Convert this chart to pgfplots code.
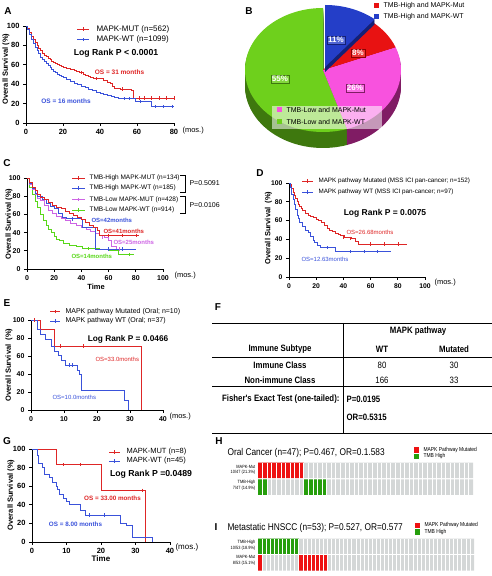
\documentclass[border=0pt]{standalone}
\usepackage{fontspec}
\setmainfont{Liberation Sans}
\newfontfamily\narrow[FakeStretch=0.85]{Liberation Sans}
\usepackage{pgfplots}
\pgfplotsset{compat=1.18}

\definecolor{aR}{RGB}{222,38,38}
\definecolor{aB}{RGB}{58,82,218}
\definecolor{cM}{RGB}{205,100,228}
\definecolor{cG}{RGB}{88,215,25}
\definecolor{hGray}{RGB}{212,215,215}
\definecolor{hRed}{RGB}{238,18,18}
\definecolor{hGreen}{RGB}{38,158,12}
\definecolor{pGreen}{RGB}{110,208,28}
\definecolor{pGreenD}{RGB}{62,120,14}
\definecolor{pMag}{RGB}{248,82,222}
\definecolor{pMagD}{RGB}{128,28,100}
\definecolor{pRed}{RGB}{232,18,18}
\definecolor{pRedD}{RGB}{140,0,0}
\definecolor{pBlue}{RGB}{36,62,200}
\definecolor{pBlueD}{RGB}{20,32,118}

\newcommand{\fs}[1]{\fontsize{#1}{#1}\selectfont}
\newcommand{\lsamp}[4]{\draw[draw=#4, line width=0.9pt] (#1,#3) -- (#2,#3); \draw[draw=#4, line width=0.6pt] ({(#1+#2)/2},#3-1.6) -- ({(#1+#2)/2},#3+1.6);}
\def\rx{78}\def\ry{62}
\newcommand{\slice}[4]{(#3,#4) -- ++({\rx*cos(#1)},{\ry*sin(#1)}) arc[start angle=#1,end angle=#2,x radius=\rx,y radius=\ry] -- cycle}

\pgfplotsset{
  km/.style={
    scale only axis, anchor=south west, clip=false,
    axis x line*=bottom, axis y line*=left,
    axis line style={line width=0.9pt,-},
    tick align=outside, major tick length=3pt,
    tick style={line width=0.9pt, black},
    ymin=0, ymax=100, ytick={0,20,40,60,80,100},
    /pgf/number format/assume math mode=true,
    ticklabel style={font=\bfseries\fs{7}},
    const plot,
    every axis plot/.append style={line width=0.9pt},
  },
  cens/.style={only marks, mark=|, mark size=1.6pt, mark options={line width=0.6pt}},
  onc/.style={
    scale only axis, anchor=south west,
    xmin=0, ymin=0, ymax=2,
    axis line style={draw=none},
    ytick=\empty, xticklabels={},
    major tick length=0pt,
    xmajorgrids, major grid style={white, line width=0.6pt},
    axis on top,
  },
}

\begin{document}
\begin{tikzpicture}
\path[use as bounding box] (0,0) rectangle (492pt,576pt);

% ================= A =================
\begin{axis}[km, at={(26pt,453pt)}, width=148pt, height=97pt, xmin=0, xmax=80,
  xtick={0,20,40,60,80}, ticklabel style={font=\bfseries\fs{7.5}}]
\addplot[aR] coordinates {(0,100)(1,97)(2,93)(3,89)(4,86)(5,83)(6,80)(7,77)(8,75)(9,72)(10,70)(11,68.5)(12,67)(13,65)(14,63.5)(15,62.5)(16,61)(17,60)(18,59)(19,58)(20,57)(22,56)(24,55)(26,54)(27.5,53)(29,52)(31,50.5)(32,49.5)(34,48)(35,47)(36.5,46)(40,45.5)(42,44)(44,42)(45.5,41)(47,38)(48,36)(51,35)(55,34.5)(57,34)(58,25.7)(80,25.7)};
\addplot[aB] coordinates {(0,100)(1,96)(2,91)(3,86)(4,82)(5,78)(6,75)(7,72)(8,68)(9,66)(10,63)(11,61)(12,59)(13,57)(14,55)(15,53.5)(16,52)(17,50.5)(18,49)(19,47.5)(20,46.5)(22,44.5)(24,43)(26,41)(28,39.5)(30,38)(32,36.5)(34,35)(36,33.5)(38,32)(40,30)(42,29)(44,28)(46,27)(48,26)(50,25)(58,25)(59,22)(68,17)(80,17)};
\addplot[aR, cens] coordinates {(30,52)(38,45.5)(52,35)(61,25.7)(64,25.7)(68,25.7)(72,25.7)(76,25.7)(80,25.7)};
\addplot[aB, cens] coordinates {(53,25)(56,25)(62,22)(70,17)(74,17)(79,17)};
\end{axis}

% ================= C =================
\begin{axis}[km, at={(27pt,307pt)}, width=136pt, height=91pt, xmin=0, xmax=100,
  xtick={0,20,40,60,80,100}]
\addplot[cG] coordinates {(0,100)(2,90)(4,82)(6,74)(8,68)(10,60)(12,53)(14,48)(16,44)(18,40)(20,36)(22,33)(24,31)(27,28)(31,26)(36,24.5)(41,23)(47,22.5)(53,22)(60,20)(67,16)(79,16)};
\addplot[cM] coordinates {(0,100)(2,93)(4,87)(6,82)(8,78)(10,75)(13,70)(16,64)(19,61)(22,58)(25,55)(28,53)(32,50)(36,48)(40,46)(44,44)(47,41)(50,39)(53,37)(57,35)(60,31)(62,25)(66,22)(70,22)};
\addplot[aB] coordinates {(0,100)(2,94)(4,88)(6,83)(8,80)(11,76)(14,72)(17,69)(20,66)(23,61)(26,57)(29,55)(35,55)(40,54)(41,46)(49,46)(50,22)(80,22)};
\addplot[aR] coordinates {(0,100)(2,95)(4,90)(6,86)(8,82)(10,79)(13,76)(16,73)(19,70)(22,68)(25,66)(28,63)(31,61)(34,59)(37,57)(40,54)(43,51)(46,48)(49,46)(52,42)(53.6,37)(82,37)};
\addplot[aR, cens] coordinates {(60,37)(70,37)(80,37)};
\addplot[aB, cens] coordinates {(33,55)(60,22)(70,22)};
\addplot[cM, cens] coordinates {(55,35)(68,22)};
\addplot[cG, cens] coordinates {(45,22.5)(75,16)};
\end{axis}

% ================= D =================
\begin{axis}[km, at={(289pt,299pt)}, width=136pt, height=94pt, xmin=0, xmax=100,
  xtick={0,20,40,60,80,100}, ticklabel style={font=\bfseries\fs{6.8}}]
\addplot[aR] coordinates {(0,100)(1,98)(2,94)(3,90)(4,87)(5,84)(6,80)(7,77)(8,75)(9,73)(10,71)(12,68)(14,66)(16,64)(18,63)(20,61)(22,60)(24,58)(26,55)(28,52)(30,50)(32,48)(34,46)(36,45)(38,44)(41,42)(46,41)(49,38)(51,35)(87,35)};
\addplot[aB] coordinates {(0,100)(1,95)(2,88)(3,82)(4,77)(5,72)(6,66)(7,62)(8,58)(10,54)(12,50)(14,47)(16,43)(18,39)(19,37)(21,34)(23,31)(33,31)(34,27)(75,27)};
\addplot[aR, cens] coordinates {(40,42)(45,41)(60,35)(70,35)(80,35)};
\addplot[aB, cens] coordinates {(28,31)(45,27)(55,27)(65,27)};
\end{axis}

% ================= E =================
\begin{axis}[km, at={(31pt,166pt)}, width=132pt, height=90pt, xmin=0, xmax=40,
  xtick={0,10,20,30,40}]
\addplot[aR] coordinates {(0,100)(3,90)(7,71)(33.5,0)};
\addplot[aB] coordinates {(0,100)(2,89)(3,83.6)(4.3,78)(6.3,71)(7,65)(8.3,61)(9.3,55.5)(10.3,50)(14,44)(14.8,39)(15.4,22)(28.2,11)(29.5,0)};
\addplot[aR, cens] coordinates {(1,100)(9,71)(16,71)};
\addplot[aB, cens] coordinates {(11.5,50)(12.5,50)};
\end{axis}

% ================= G =================
\begin{axis}[km, at={(32pt,34pt)}, width=138pt, height=93pt, xmin=0, xmax=40,
  xtick={0,10,20,30,40}, ticklabel style={font=\bfseries\fs{7.5}}]
\addplot[aR] coordinates {(0,100)(7,83)(20,55.6)(33,0)};
\addplot[aB] coordinates {(0,100)(1.5,93)(2,84)(3,80)(3.5,73)(5,69)(6,64)(7,60)(7.5,56)(8,51)(9,47)(10,44)(11,40)(14,34)(15.5,29)(25.5,20)(27.5,17.8)(29,5.4)(35,0)};
\addplot[aR, cens] coordinates {(9,83)(14,83)(32,55.6)};
\addplot[aB, cens] coordinates {(16.5,29)(21,29)};
\end{axis}

% ================= H =================
\begin{axis}[onc, at={(258pt,81pt)}, width=215pt, height=32.3pt, xmax=47, xtick={1,...,46}]
\addplot[fill=hGray, draw=none] coordinates {(0,1.04)(47,1.04)(47,2)(0,2)(0,1.04)};
\addplot[fill=hGray, draw=none] coordinates {(0,0)(47,0)(47,0.96)(0,0.96)(0,0)};
\addplot[fill=hRed, draw=none] coordinates {(0,1.04)(10,1.04)(10,2)(0,2)(0,1.04)};
\addplot[fill=hGreen, draw=none] coordinates {(0,0)(2,0)(2,0.96)(0,0.96)(0,0)};
\addplot[fill=hGreen, draw=none] coordinates {(10,0)(15,0)(15,0.96)(10,0.96)(10,0)};
\end{axis}

% ================= I =================
\begin{axis}[onc, at={(258pt,5.5pt)}, width=216pt, height=31.8pt, xmax=53, xtick={1,...,52}]
\addplot[fill=hGray, draw=none] coordinates {(0,1.04)(53,1.04)(53,2)(0,2)(0,1.04)};
\addplot[fill=hGray, draw=none] coordinates {(0,0)(53,0)(53,0.96)(0,0.96)(0,0)};
\addplot[fill=hGreen, draw=none] coordinates {(0,1.04)(10,1.04)(10,2)(0,2)(0,1.04)};
\addplot[fill=hRed, draw=none] coordinates {(0,0)(1,0)(1,0.96)(0,0.96)(0,0)};
\addplot[fill=hRed, draw=none] coordinates {(10,0)(17,0)(17,0.96)(10,0.96)(10,0)};
\end{axis}

\begin{scope}[x=1pt,y=1pt]
% ---------- panel letters ----------
\foreach \l/\px/\py in {A/8/565,B/249/565,C/7/413,D/260/403,E/7/273,F/218/269,G/7/135,H/219/135,I/216/49}
  \node[font=\bfseries\fs{10}] at (\px,\py) {\l};

% ---------- A texts ----------
\node[rotate=90, font=\bfseries\fs{7.5}] at (6,507) {Overall Survival (\%)};
\lsamp{77}{89}{547}{aR}
\lsamp{77}{89}{536.5}{aB}
\node[anchor=west, font=\fs{8}] at (93,547) {MAPK-MUT (n=562)};
\node[anchor=west, font=\fs{8}] at (93,536.5) {MAPK-WT (n=1099)};
\node[font=\bfseries\fs{8.7}] at (116,523) {Log Rank P < 0.0001};
\node[font=\bfseries\fs{6.5}, text=aR] at (119.5,504) {OS = 31 months};
\node[font=\bfseries\fs{6.5}, text=aB] at (66,475) {OS = 16 months};
\node[anchor=west, font=\fs{7.5}] at (179,445) {(mos.)};

% ---------- B pie ----------
\begin{scope}[shift={(323,506)}]
  \foreach \i in {16,...,1}{
    \fill[pGreenD] \slice{90}{288}{0}{-\i};
    \fill[pMagD] \slice{-72}{21.6}{0}{-\i};
    \fill[pRedD] \slice{21.6}{50.4}{0}{-\i};
  }
  \fill[pGreen] \slice{90}{288}{0}{0};
  \fill[pMag] \slice{-72}{21.6}{0}{0};
  \fill[pRed] \slice{21.6}{50.4}{0}{0};
  \foreach \i in {5,...,1}{
    \fill[pBlueD] \slice{50.4}{90}{2}{3-\i};
  }
  \fill[pBlue] \slice{50.4}{90}{2}{3};
\end{scope}
\fill[white, fill opacity=0.55] (272,447) rectangle (382,470);
\fill[pMag] (277,463.5) rectangle (282,468.5);
\fill[pGreen] (277,451.5) rectangle (282,456.5);
\node[anchor=west, font=\fs{7}] at (283,466) {TMB-Low and MAPK-Mut};
\node[anchor=west, font=\fs{7}] at (283,454) {TMB-Low and MAPK-WT};
\fill[pRed] (374,568) rectangle (379,573);
\fill[pBlue] (374,556.5) rectangle (379,561.5);
\node[anchor=west, font=\fs{7}] at (380,570.5) {TMB-High and MAPK-Mut};
\node[anchor=west, font=\fs{7}] at (380,559) {TMB-High and MAPK-WT};
\node[font=\bfseries\fs{8}, text=white, fill=pBlue!80!white, draw=pBlueD, line width=0.3pt, inner sep=1pt] at (336,536) {11\%};
\node[font=\bfseries\fs{8}, text=white, fill=pRed!85!white, draw=pRedD, line width=0.3pt, inner sep=1pt] at (358,523) {8\%};
\node[font=\bfseries\fs{8}, text=white, fill=pMag!85!white, draw=pMagD, line width=0.3pt, inner sep=1pt] at (355,488) {26\%};
\node[font=\bfseries\fs{8}, text=white, fill=pGreen!85!white, draw=pGreenD, line width=0.3pt, inner sep=1pt] at (280,497) {55\%};

% ---------- C texts ----------
\node[rotate=90, font=\bfseries\fs{7.5}] at (9,352) {Overall Survival (\%)};
\lsamp{72}{85}{398}{aR}
\lsamp{72}{85}{388}{aB}
\lsamp{72}{85}{376.5}{cM}
\lsamp{72}{85}{366}{cG}
\node[anchor=west, font=\fs{6.5}] at (86,398) {TMB-High MAPK-MUT (n=134)};
\node[anchor=west, font=\fs{6.5}] at (86,388) {TMB-High MAPK-WT (n=185)};
\node[anchor=west, font=\fs{6.5}] at (86,376.5) {TMB-Low MAPK-MUT (n=428)};
\node[anchor=west, font=\fs{6.5}] at (86,366) {TMB-Low MAPK-WT (n=914)};
\draw[line width=0.6pt] (180,401) -- (185,401) -- (185,384) -- (180,384);
\draw[line width=0.6pt] (180,380) -- (185,380) -- (185,363) -- (180,363);
\node[anchor=west, font=\fs{7}] at (186,393) {P=0.5091};
\node[anchor=west, font=\fs{7}] at (186,371) {P=0.0106};
\node[anchor=west, font=\bfseries\fs{6}, text=aB] at (88,356) {OS=42months};
\node[anchor=west, font=\bfseries\fs{6}, text=aR] at (100,345) {OS=41months};
\node[anchor=west, font=\bfseries\fs{6}, text=cM] at (110,334) {OS=25months};
\node[anchor=west, font=\bfseries\fs{6}, text=cG] at (68,320) {OS=14months};
\node[font=\bfseries\fs{7.5}] at (96,289) {Time};
\node[anchor=west, font=\fs{7.5}] at (171,300) {(mos.)};

% ---------- D texts ----------
\node[rotate=90, font=\bfseries\fs{7.5}] at (268.5,348) {Overall Survival\ \ (\%)};
\lsamp{302}{313}{395}{aR}
\lsamp{302}{313}{384}{aB}
\node[anchor=west, font=\fs{6.3}] at (315,395) {MAPK pathway Mutated (MSS ICI pan-cancer; n=152)};
\node[anchor=west, font=\fs{6.3}] at (315,384) {MAPK pathway WT (MSS ICI pan-cancer; n=97)};
\node[font=\bfseries\fs{8.5}] at (385,363) {Log Rank P = 0.0075};
\node[anchor=west, font=\fs{6}, text=aR] at (343,344) {OS=26.68months};
\node[anchor=west, font=\fs{6}, text=aB] at (298,317) {OS=12.63months};
\node[anchor=west, font=\fs{7.5}] at (431,293) {(mos.)};

% ---------- E texts ----------
\node[rotate=90, font=\bfseries\fs{7.5}] at (9,211) {Overall Survival\ \ (\%)};
\lsamp{50}{60}{264.3}{aR}
\lsamp{50}{60}{255}{aB}
\node[anchor=west, font=\fs{7}] at (62,264.3) {MAPK pathway Mutated (Oral; n=10)};
\node[anchor=west, font=\fs{7}] at (62,255) {MAPK pathway WT (Oral; n=37)};
\node[font=\bfseries\fs{8.3}] at (128,237) {Log Rank P = 0.0466};
\node[anchor=west, font=\fs{6}, text=aR] at (92,217) {OS=33.0months};
\node[anchor=west, font=\fs{6}, text=aB] at (49,179) {OS=10.0months};
\node[anchor=west, font=\fs{7.5}] at (166,159) {(mos.)};

% ---------- F table ----------
\draw[line width=0.8pt] (212,253) -- (492,253);
\draw[line width=0.8pt] (212,219) -- (492,219);
\draw[line width=0.8pt] (212,190) -- (492,190);
\draw[line width=0.8pt] (212,143) -- (492,143);
\draw[line width=0.8pt] (343,253) -- (343,143);
\begin{scope}[every node/.style={font=\narrow\fs{9.2}}]
\node[font=\narrow\bfseries\fs{9.2}] at (418,245) {MAPK pathway};
\node[font=\narrow\bfseries\fs{9.2}] at (280,227) {Immune Subtype};
\node[font=\narrow\bfseries\fs{9.2}] at (382,227) {WT};
\node[font=\narrow\bfseries\fs{9.2}] at (454,227) {Mutated};
\node[font=\narrow\bfseries\fs{9.2}] at (280,211) {Immune Class};
\node at (382,211) {80};
\node at (454,211) {30};
\node[font=\narrow\bfseries\fs{9.2}] at (280,196) {Non-immune Class};
\node at (382,196) {166};
\node at (454,196) {33};
\node[anchor=east, font=\narrow\bfseries\fs{9.2}] at (343,177) {Fisher's Exact Test (one-tailed):};
\node[anchor=west, font=\narrow\bfseries\fs{9.2}] at (343,177) {P=0.0195};
\node[anchor=west, font=\narrow\bfseries\fs{9.2}] at (343,159) {OR=0.5315};
\end{scope}

% ---------- G texts ----------
\node[rotate=90, font=\bfseries\fs{7.5}] at (11,81) {Overall Survival (\%)};
\lsamp{109}{120}{124}{aR}
\lsamp{109}{120}{115}{aB}
\node[anchor=west, font=\fs{7.5}] at (123,124) {MAPK-MUT (n=8)};
\node[anchor=west, font=\fs{7.5}] at (123,115) {MAPK-WT (n=45)};
\node[font=\bfseries\fs{8.7}] at (151,102) {Log Rank P =0.0489};
\node[font=\bfseries\fs{6.3}, text=aR] at (112.5,78) {OS = 33.00 months};
\node[font=\bfseries\fs{6.3}, text=aB] at (75.5,52) {OS = 8.00 months};
\node[font=\bfseries\fs{8}] at (101,17) {Time};
\node[anchor=west, font=\fs{8}] at (172,29) {(mos.)};

% ---------- H texts ----------
\node[anchor=west, font=\narrow\fs{9.8}] at (224,123) {Oral Cancer (n=47); P=0.467, OR=0.1.583};
\fill[hRed] (414,123) rectangle (419,128.5);
\fill[hGreen] (414,116.5) rectangle (419,122);
\node[anchor=west, font=\narrow\fs{5.8}] at (420,126) {MAPK Pathway Mutated};
\node[anchor=west, font=\narrow\fs{5.8}] at (420,119.5) {TMB High};
\begin{scope}[every node/.style={anchor=east, font=\narrow\fs{4.6}, inner sep=0.5pt}]
\node at (256,109.5) {MAPK-Mut};
\node at (256,103.5) {10/47 (21.3\%)};
\node at (256,94) {TMB-High};
\node at (256,88) {7/47 (14.9\%)};
\end{scope}

% ---------- I texts ----------
\node[anchor=west, font=\narrow\fs{9.8}] at (224,48) {Metastatic HNSCC (n=53); P=0.527, OR=0.577};
\fill[hRed] (415,47.5) rectangle (420,53);
\fill[hGreen] (415,41) rectangle (420,46.5);
\node[anchor=west, font=\narrow\fs{5.8}] at (421,50.5) {MAPK Pathway Mutated};
\node[anchor=west, font=\narrow\fs{5.8}] at (421,43.5) {TMB High};
\begin{scope}[every node/.style={anchor=east, font=\narrow\fs{4.6}, inner sep=0.5pt}]
\node at (256,34) {TMB-High};
\node at (256,28) {10/53 (18.9\%)};
\node at (256,19) {MAPK-Mut};
\node at (256,13) {8/53 (15.1\%)};
\end{scope}
\end{scope}
\end{tikzpicture}
\end{document}
